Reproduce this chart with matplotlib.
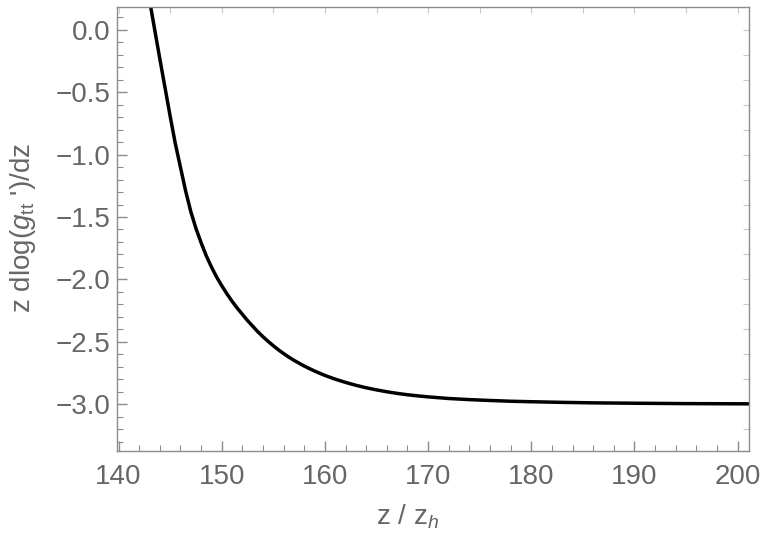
import matplotlib
matplotlib.use("Agg")
import matplotlib.pyplot as plt
from matplotlib.ticker import MultipleLocator, NullFormatter

# values
z_over_zh = [143.0, 143.5, 144.0, 144.5, 145.0, 145.5, 146.0, 146.5, 147.0, 147.5,
             148.0, 148.5, 149.0, 149.5, 150.0, 150.5, 151.0, 151.5, 152.0, 152.5,
             153.0, 153.5, 154.0, 154.5, 155.0, 155.5, 156.0, 156.5, 157.0, 158.0,
             159.0, 160.0, 161.0, 162.0, 163.0, 164.0, 165.0, 166.0, 167.0, 168.0,
             169.0, 170.0, 172.0, 174.0, 176.0, 178.0, 180.0, 183.0, 186.0, 190.0,
             195.0, 201.5]
dlog_gtt = [0.24, 0.005, -0.23, -0.46, -0.69, -0.91, -1.10, -1.29, -1.455, -1.59,
            -1.705, -1.81, -1.90, -1.98, -2.05, -2.115, -2.175, -2.23, -2.28, -2.33,
            -2.375, -2.42, -2.46, -2.497, -2.532, -2.565, -2.595, -2.623, -2.649, -2.695,
            -2.735, -2.77, -2.80, -2.826, -2.849, -2.869, -2.886, -2.901, -2.914, -2.925,
            -2.934, -2.942, -2.955, -2.964, -2.971, -2.977, -2.981, -2.986, -2.99, -2.993,
            -2.996, -2.998]

plt.rcParams['font.family'] = ['Liberation Sans', 'DejaVu Sans']
plt.rcParams['mathtext.fontset'] = 'custom'
plt.rcParams['mathtext.rm'] = 'Liberation Sans'
plt.rcParams['mathtext.it'] = 'Liberation Sans:italic'

label_col = '#666666'
frame_col = '#8c8c8c'

fig = plt.figure(figsize=(7.63, 5.47), dpi=100)
ax = fig.add_axes([0.1533, 0.1755, 0.8284, 0.8108])

ax.plot(z_over_zh, dlog_gtt, color='black', lw=2.5, solid_joinstyle='round')

ax.set_xlim(139.85, 201.1)
ax.set_ylim(-3.376, 0.18)

ax.xaxis.set_major_locator(MultipleLocator(10))
ax.xaxis.set_minor_locator(MultipleLocator(2))
ax.yaxis.set_major_locator(MultipleLocator(0.5))
ax.yaxis.set_minor_locator(MultipleLocator(0.1))
ax.yaxis.set_major_formatter(plt.FuncFormatter(lambda v, p: f"{v:.1f}".replace('-', '\u2212')))

ax.tick_params(which='both', direction='in', colors=frame_col, labelcolor=label_col,
               labelsize=20, top=False, right=False)
ax.tick_params(which='major', length=7, width=1)
ax.tick_params(which='minor', length=4, width=0.8)
ax.tick_params(axis='x', pad=9)
ax.tick_params(axis='y', pad=5)

for s in ax.spines.values():
    s.set_color(frame_col)
    s.set_linewidth(1)

# unlabeled ticks on top and right frame
top = ax.secondary_xaxis('top')
top.xaxis.set_major_locator(MultipleLocator(5))
top.xaxis.set_major_formatter(NullFormatter())
top.tick_params(direction='in', length=4, width=0.8, colors='#c8c8c8')
top.spines['top'].set_visible(False)

right = ax.secondary_yaxis('right')
right.yaxis.set_major_locator(MultipleLocator(0.2))
right.yaxis.set_major_formatter(NullFormatter())
right.tick_params(direction='in', length=4, width=0.8, colors='#c8c8c8')
right.spines['right'].set_visible(False)

ax.set_xlabel(r"z / z$_{\mathit{h}}$", fontsize=20, color=label_col)
ax.set_ylabel(r"z dlog($\mathit{g}_{\mathrm{tt}}$ ')/dz", fontsize=20, color=label_col)
ax.xaxis.set_label_coords(0.459, -0.116)
ax.yaxis.set_label_coords(-0.125, 0.502)

fig.savefig("out.png", dpi=100)
